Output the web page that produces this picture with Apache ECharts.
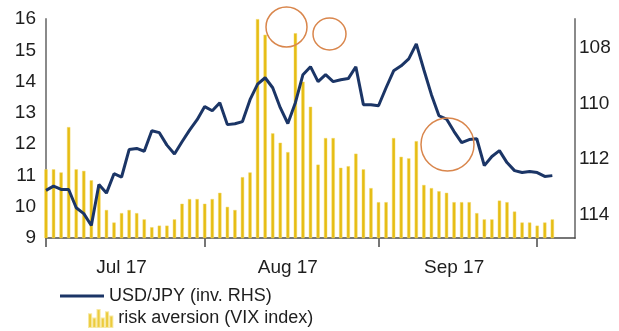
<!DOCTYPE html>
<html>
<head>
<meta charset="utf-8">
<script src="https://cdn.jsdelivr.net/npm/echarts@6/dist/echarts.min.js"></script>
<style>
  html, body { margin: 0; padding: 0; background: #ffffff; }
  #chart { width: 619px; height: 331px; }
</style>
</head>
<body>
<div id="chart"></div>
<script>
// Business days, Jul 2017 - early Oct 2017
const dates = [
  '2017-07-03','2017-07-04','2017-07-05','2017-07-06','2017-07-07',
  '2017-07-10','2017-07-11','2017-07-12','2017-07-13','2017-07-14',
  '2017-07-17','2017-07-18','2017-07-19','2017-07-20','2017-07-21',
  '2017-07-24','2017-07-25','2017-07-26','2017-07-27','2017-07-28',
  '2017-07-31',
  '2017-08-01','2017-08-02','2017-08-03','2017-08-04',
  '2017-08-07','2017-08-08','2017-08-09','2017-08-10','2017-08-11',
  '2017-08-14','2017-08-15','2017-08-16','2017-08-17','2017-08-18',
  '2017-08-21','2017-08-22','2017-08-23','2017-08-24','2017-08-25',
  '2017-08-28','2017-08-29','2017-08-30','2017-08-31',
  '2017-09-01',
  '2017-09-04','2017-09-05','2017-09-06','2017-09-07','2017-09-08',
  '2017-09-11','2017-09-12','2017-09-13','2017-09-14','2017-09-15',
  '2017-09-18','2017-09-19','2017-09-20','2017-09-21','2017-09-22',
  '2017-09-25','2017-09-26','2017-09-27','2017-09-28','2017-09-29',
  '2017-10-02','2017-10-03','2017-10-04','2017-10-05','2017-10-06',
  '2017-10-09'
];

// VIX index (left axis)
const vix = [
  11.2, 11.2, 11.1, 12.55, 11.2, 11.15, 10.85, 10.7, 9.9, 9.5,
  9.8, 9.9, 9.8, 9.6, 9.35, 9.4, 9.4, 9.6, 10.1, 10.25,
  10.25, 10.1, 10.25, 10.45, 10.0, 9.9, 10.95, 11.1, 16.0, 15.5,
  12.35, 12.05, 11.75, 15.55, 14.0, 13.2, 11.35, 12.2, 12.2, 11.25,
  11.3, 11.7, 11.2, 10.6, 10.15, 10.15, 12.2, 11.6, 11.55, 12.1,
  10.7, 10.6, 10.5, 10.45, 10.15, 10.15, 10.15, 9.8, 9.6, 9.6,
  10.2, 10.15, 9.85, 9.5, 9.5, 9.4, 9.5, 9.6
];

// USD/JPY (right axis, inverted)
const usdjpy = [
  113.13, 112.98, 113.1, 113.1, 113.76, 113.97, 114.4, 112.92, 113.23, 112.53,
  112.65, 111.66, 111.62, 111.72, 110.98, 111.05, 111.5, 111.82, 111.38, 110.96,
  110.58, 110.11, 110.26, 109.97, 110.76, 110.73, 110.65, 109.86, 109.3, 109.07,
  109.43, 110.15, 110.72, 109.97, 108.96, 108.67, 109.21, 108.96, 109.21, 109.14,
  109.1, 108.67, 110.04, 110.04, 110.08, 109.43, 108.82, 108.64, 108.39, 107.85,
  108.78, 109.68, 110.44, 110.56, 111.01, 111.41, 111.3, 111.27, 112.24, 111.91,
  111.7, 112.13, 112.42, 112.49, 112.45, 112.49, 112.63, 112.6
];

const monthLabels = { '07': 'Jul 17', '08': 'Aug 17', '09': 'Sep 17' };
const rightTicks = [108, 110, 112, 114];

const seriesNames = ['USD/JPY (inv. RHS)', 'risk aversion (VIX index)'];

const FONT = '"Liberation Sans", Arial, Helvetica, sans-serif';
const TEXT = '#1e1e1e';
const NAVY = '#1b3566';
const GOLD = '#e6bd14';

// month boundaries and mid-month label positions
const monthOf = d => d.slice(5, 7);
const monthStarts = new Set();
const spans = {};
dates.forEach((d, i) => {
  const m = monthOf(d);
  if (i === 0 || monthOf(dates[i - 1]) !== m) monthStarts.add(i);
  if (!spans[m]) spans[m] = [i, i];
  spans[m][1] = i;
});
const labelAt = {};
Object.keys(monthLabels).forEach(m => {
  const s = spans[m];
  labelAt[Math.floor((s[0] + s[1]) / 2)] = monthLabels[m];
});

const chart = echarts.init(document.getElementById('chart'), null, { renderer: 'canvas' });

chart.setOption({
  animation: false,
  backgroundColor: '#ffffff',
  textStyle: { fontFamily: FONT },
  grid: { left: 46, right: 44, top: 19, bottom: 93, containLabel: false },
  legend: [
    {
      data: [{ name: seriesNames[0], icon: 'rect' }],
      left: 60, top: 287, padding: 0,
      itemWidth: 44, itemHeight: 3, itemGap: 0,
      selectedMode: false,
      textStyle: { fontFamily: FONT, fontSize: 18, color: TEXT }
    },
    {
      data: [{
        name: seriesNames[1],
        icon: 'path://M0,6h2v12h-2z M4,10h2v8h-2z M8,2h2v16h-2z M12,10h2v8h-2z M16,4h2v14h-2z M20,8h2v10h-2z'
      }],
      left: 88, top: 309, padding: 0,
      itemWidth: 25, itemHeight: 17, itemGap: 0,
      selectedMode: false,
      textStyle: { fontFamily: FONT, fontSize: 18, color: TEXT }
    }
  ],
  xAxis: {
    type: 'category',
    data: dates,
    boundaryGap: false,
    axisLine: { show: true, lineStyle: { color: '#4a4a4a', width: 1.5 } },
    axisTick: {
      show: true, inside: false, length: 9,
      interval: (i) => monthStarts.has(i),
      lineStyle: { color: '#4a4a4a', width: 1.5 }
    },
    axisLabel: {
      interval: (i) => labelAt[i] !== undefined,
      formatter: (v, i) => labelAt[i] || '',
      fontFamily: FONT, fontSize: 19, color: TEXT, margin: 20
    },
    splitLine: { show: false }
  },
  yAxis: [
    {
      type: 'value',
      min: 9, max: 16, interval: 1,
      axisLine: { show: true, lineStyle: { color: '#8a8a8a', width: 2 } },
      axisTick: { show: false },
      axisLabel: { fontFamily: FONT, fontSize: 19, color: TEXT, margin: 10 },
      splitLine: { show: false }
    },
    {
      type: 'value',
      position: 'right',
      inverse: true,
      min: 106.95, max: 114.85,
      axisLine: { show: true, lineStyle: { color: '#8a8a8a', width: 2 } },
      axisTick: { show: false },
      axisLabel: {
        customValues: rightTicks,
        fontFamily: FONT, fontSize: 19, color: TEXT, margin: 4
      },
      splitLine: { show: false }
    }
  ],
  series: [
    {
      name: seriesNames[1],
      type: 'bar',
      yAxisIndex: 0,
      data: vix,
      barWidth: 3.6,
      itemStyle: { color: GOLD, borderColor: 'rgba(242,216,100,0.6)', borderWidth: 0.8 },
      z: 2
    },
    {
      name: seriesNames[0],
      type: 'line',
      yAxisIndex: 1,
      data: usdjpy,
      symbol: 'none',
      lineStyle: { color: NAVY, width: 3 },
      itemStyle: { color: NAVY },
      z: 3
    }
  ],
  graphic: [
    { type: 'ellipse', shape: { cx: 286.5, cy: 27, rx: 20.5, ry: 20 }, style: { fill: 'none', stroke: '#d9864c', lineWidth: 1.5 }, z: 10 },
    { type: 'ellipse', shape: { cx: 329.5, cy: 34, rx: 16.5, ry: 16 }, style: { fill: 'none', stroke: '#d9864c', lineWidth: 1.5 }, z: 10 },
    { type: 'ellipse', shape: { cx: 447.5, cy: 144.5, rx: 26.5, ry: 26.5 }, style: { fill: 'none', stroke: '#d9864c', lineWidth: 1.5 }, z: 10 }
  ]
});
</script>
</body>
</html>
